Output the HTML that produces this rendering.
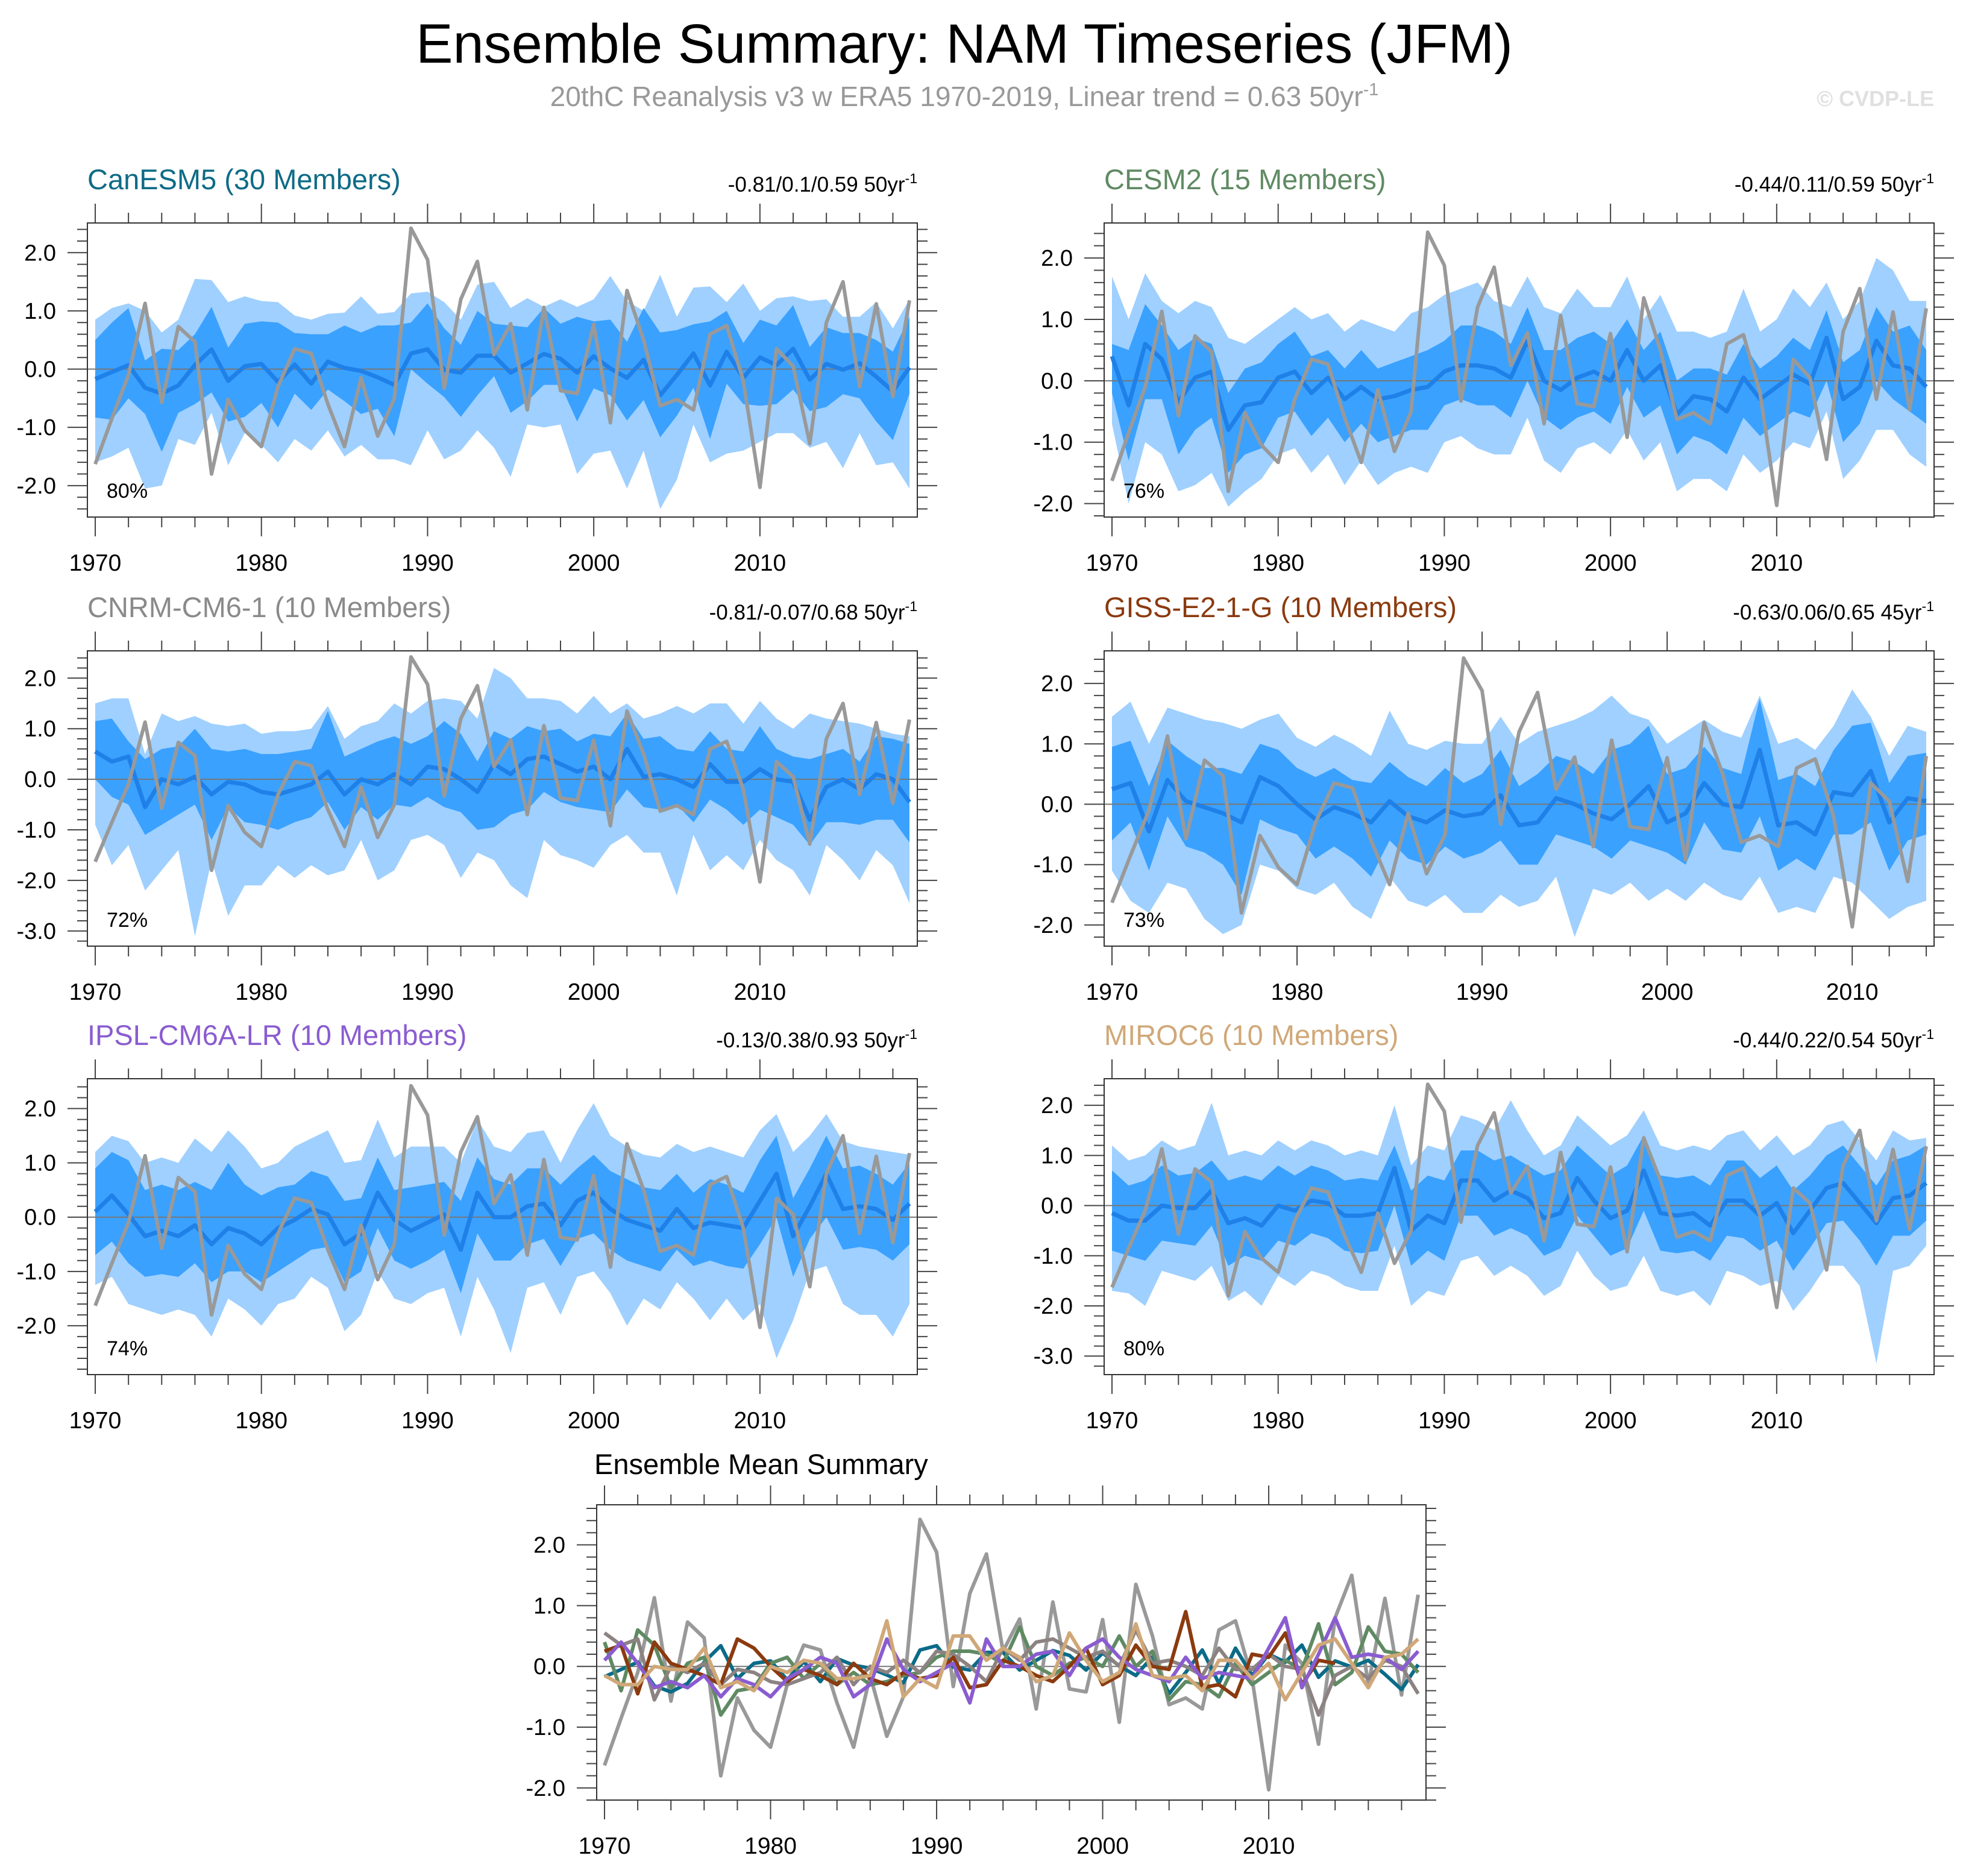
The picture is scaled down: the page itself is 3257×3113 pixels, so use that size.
<!DOCTYPE html>
<html><head><meta charset="utf-8"><style>
html,body{margin:0;padding:0;background:#fff}
svg{display:block}
text{font-family:"Liberation Sans",sans-serif}
</style></head><body>
<svg id="chart" xmlns="http://www.w3.org/2000/svg" width="3257" height="3113" viewBox="0 0 3257 3113">
<rect width="3257" height="3113" fill="#fff"/>
<text x="1600" y="104" font-size="92" text-anchor="middle" fill="#000">Ensemble Summary: NAM Timeseries (JFM)</text>
<text x="1600" y="176" font-size="46" text-anchor="middle" fill="#999">20thC Reanalysis v3 w ERA5 1970-2019, Linear trend = 0.63 50yr<tspan dy="-18" font-size="29">-1</tspan></text>
<text x="3209" y="176" font-size="36" font-weight="bold" text-anchor="end" fill="#e0e0e0">© CVDP-LE</text>
<text x="986" y="2446" font-size="47" fill="#000">Ensemble Mean Summary</text>
<g id="plots"></g>
</svg>
<script>
const obs=[-1.63,-0.85,-0.1,1.13,-0.57,0.73,0.47,-1.8,-0.52,-1.05,-1.33,-0.3,0.35,0.27,-0.6,-1.33,-0.15,-1.15,-0.5,2.42,1.88,-0.33,1.2,1.85,0.25,0.78,-0.7,1.06,-0.37,-0.42,0.77,-0.92,1.35,0.5,-0.63,-0.52,-0.7,0.6,0.75,-0.2,-2.03,0.35,0.05,-1.28,0.8,1.5,-0.3,1.12,-0.47,1.18];

const canMean=[-0.17,-0.05,0.07,-0.32,-0.42,-0.28,0.07,0.34,-0.2,0.05,0.09,-0.22,0.08,-0.25,0.13,0.02,-0.03,-0.14,-0.27,0.27,0.34,-0.01,-0.06,0.23,0.23,-0.06,0.1,0.26,0.18,-0.06,0.22,0.01,-0.15,0.16,-0.45,-0.1,0.27,-0.28,0.3,-0.15,0.2,0.07,0.35,-0.18,0.09,-0.01,0.1,-0.13,-0.38,0.03];
const canDarkHi=[0.5,0.8,1.05,0.15,0.35,0.33,0.6,1.07,0.37,0.78,0.82,0.8,0.62,0.6,0.6,0.75,0.63,0.75,0.75,0.8,1.13,0.7,0.42,1.0,0.78,0.75,0.72,1.05,0.78,0.9,0.82,0.85,0.47,1.05,0.63,0.67,0.77,0.82,1.0,0.45,0.85,0.75,1.1,0.38,0.72,0.62,0.62,0.5,0.3,0.9];
const canDarkLo=[-0.83,-0.87,-0.5,-0.77,-1.42,-0.75,-0.6,-0.4,-0.9,-0.82,-0.58,-1.0,-0.42,-0.7,-0.35,-0.55,-0.77,-0.68,-1.15,0.0,-0.25,-0.48,-0.82,-0.45,-0.12,-0.75,-0.55,-0.27,-0.27,-0.9,-0.33,-0.45,-0.88,-0.53,-1.17,-0.8,-0.32,-1.2,-0.25,-0.6,-0.63,-0.6,-0.35,-0.72,-0.65,-0.43,-0.5,-0.9,-1.22,-0.42];
const canLightHi=[0.85,1.05,1.13,1.0,0.63,0.85,1.55,1.53,1.15,1.25,1.17,1.15,0.92,0.85,0.95,0.97,1.25,0.95,0.98,1.3,1.33,1.15,0.85,1.45,1.5,1.05,1.22,1.07,1.2,1.07,1.2,1.6,1.17,1.0,1.62,0.9,1.4,1.42,1.15,1.47,1.0,1.22,1.25,1.17,1.2,0.9,0.9,1.15,0.7,1.2];
const canLightLo=[-1.6,-1.5,-1.35,-2.05,-2.0,-1.2,-1.3,-0.75,-1.65,-1.1,-1.3,-1.6,-1.2,-1.4,-1.05,-1.5,-1.3,-1.55,-1.55,-1.65,-1.05,-1.55,-1.4,-1.05,-1.35,-1.85,-0.95,-1.0,-0.95,-1.8,-1.45,-1.4,-2.05,-1.4,-2.4,-1.9,-0.95,-1.6,-1.45,-1.4,-1.25,-1.1,-1.1,-1.35,-1.25,-1.7,-1.1,-1.65,-1.6,-2.05];

const cesmMean=[0.4,-0.4,0.6,0.35,-0.35,0.05,0.15,-0.8,-0.4,-0.35,0.05,0.15,-0.2,0.05,-0.3,-0.1,-0.3,-0.25,-0.15,-0.1,0.15,0.25,0.25,0.2,0.05,0.65,0.0,-0.15,0.05,0.15,0.0,0.5,0.0,0.25,-0.55,-0.25,-0.3,-0.5,0.05,-0.3,-0.1,0.1,-0.05,0.7,-0.3,-0.1,0.65,0.25,0.2,-0.1];
const cesmDarkHi=[0.6,0.5,1.25,0.9,0.5,0.7,0.6,-0.2,0.2,0.3,0.6,0.8,0.4,0.5,0.2,0.5,0.2,0.3,0.4,0.5,0.65,0.9,0.9,0.8,0.6,1.2,0.5,0.5,0.7,0.8,0.6,1.0,0.5,0.8,0.0,0.2,0.2,0.1,0.6,0.2,0.4,0.7,0.5,1.15,0.3,0.5,1.2,0.8,0.9,0.5];
const cesmDarkLo=[-0.2,-1.3,-0.3,-0.3,-1.2,-0.8,-0.6,-1.5,-1.2,-1.1,-0.6,-0.5,-0.9,-0.6,-1.0,-0.7,-1.0,-0.9,-0.8,-0.8,-0.4,-0.3,-0.4,-0.4,-0.6,0.0,-0.6,-0.8,-0.6,-0.5,-0.7,-0.1,-0.6,-0.4,-1.2,-0.9,-1.0,-1.2,-0.6,-0.9,-0.7,-0.5,-0.6,0.0,-1.0,-0.7,0.0,-0.3,-0.5,-0.7];
const cesmLightHi=[1.7,1.0,1.75,1.3,1.1,1.3,1.2,0.7,0.6,0.8,1.0,1.2,1.0,1.1,0.8,1.0,0.9,0.8,1.1,1.2,1.4,1.5,1.6,1.3,1.2,1.7,1.2,1.1,1.5,1.2,1.2,1.7,1.0,1.4,0.8,0.8,0.7,0.8,1.5,0.8,1.0,1.5,1.2,1.6,1.0,1.3,2.0,1.8,1.3,1.3];
const cesmLightLo=[-0.7,-2.0,-1.0,-1.2,-1.8,-1.7,-1.5,-2.05,-1.8,-1.6,-1.2,-1.1,-1.5,-1.2,-1.7,-1.3,-1.7,-1.5,-1.4,-1.5,-1.0,-0.9,-1.1,-1.2,-1.2,-0.6,-1.3,-1.5,-1.1,-1.0,-1.2,-0.8,-1.3,-1.0,-1.8,-1.6,-1.6,-1.8,-1.2,-1.5,-1.3,-1.0,-1.1,-0.5,-1.6,-1.3,-0.8,-0.8,-1.2,-1.4];

const cnrmMean=[0.55,0.35,0.45,-0.55,0.0,-0.1,0.05,-0.3,-0.05,-0.1,-0.25,-0.3,-0.2,-0.1,0.15,-0.3,0.0,-0.1,0.1,-0.1,0.25,0.2,0.0,-0.25,0.3,0.1,0.4,0.45,0.3,0.15,0.25,0.0,0.6,0.05,0.1,0.0,-0.15,0.3,-0.05,-0.05,0.2,0.0,-0.05,-0.8,-0.15,0.0,-0.2,0.1,0.0,-0.45];
const cnrmDarkHi=[1.15,1.2,0.75,0.4,0.6,0.65,1.0,0.6,0.55,0.6,0.5,0.5,0.55,0.6,1.35,0.45,0.6,0.75,0.85,0.7,0.85,1.15,0.9,0.35,0.95,0.8,1.05,0.95,1.0,0.75,0.9,0.85,1.3,0.8,0.85,0.6,0.55,0.95,0.6,0.55,1.05,0.6,0.45,0.4,0.5,0.6,0.35,0.85,0.8,0.7];
const cnrmDarkLo=[0.0,-0.35,-0.5,-1.1,-0.9,-0.7,-0.5,-1.2,-0.55,-0.85,-0.9,-1.0,-0.85,-0.75,-0.45,-1.0,-0.55,-0.8,-0.5,-0.55,-0.35,-0.55,-0.65,-1.0,-0.95,-0.7,-0.6,-0.25,-0.45,-0.55,-0.6,-0.65,-0.2,-0.55,-0.6,-0.5,-0.85,-0.4,-0.6,-0.9,-0.6,-0.75,-0.9,-1.3,-0.85,-0.85,-0.9,-0.8,-0.8,-1.25];
const cnrmLightHi=[1.5,1.6,1.6,0.5,1.3,1.15,1.25,1.1,1.05,1.1,0.9,0.95,0.95,1.0,1.45,0.8,1.05,1.15,1.5,1.3,1.55,1.6,1.55,1.2,2.2,2.0,1.6,1.6,1.55,1.3,1.65,1.3,1.5,1.2,1.3,1.45,1.3,1.5,1.5,1.1,1.55,1.2,1.0,1.3,1.2,1.15,1.1,1.0,0.9,0.85];
const cnrmLightLo=[-0.9,-1.7,-1.3,-2.2,-1.8,-1.4,-3.1,-1.6,-2.7,-2.1,-2.1,-1.7,-1.95,-1.7,-1.9,-1.8,-1.2,-2.0,-1.8,-1.2,-1.1,-1.3,-1.95,-1.45,-1.6,-2.1,-2.35,-1.2,-1.5,-1.6,-1.75,-1.3,-1.1,-1.45,-1.45,-2.3,-1.1,-1.8,-1.5,-1.8,-1.2,-1.6,-1.8,-2.3,-1.3,-1.6,-2.0,-1.4,-1.7,-2.45];

const gissMean=[0.25,0.35,-0.45,0.4,0.05,-0.05,-0.15,-0.3,0.45,0.3,0.0,-0.25,-0.05,-0.15,-0.3,0.05,-0.2,-0.3,-0.1,-0.2,-0.15,0.15,-0.35,-0.3,0.1,0.0,-0.15,-0.25,0.0,0.3,-0.3,-0.15,0.35,0.0,-0.05,0.9,-0.35,-0.3,-0.5,0.2,0.15,0.55,-0.3,0.1,0.05];
const gissDarkHi=[0.95,1.05,0.3,1.05,0.8,0.6,0.6,0.5,1.0,0.9,0.6,0.45,0.6,0.4,0.35,0.7,0.45,0.3,0.6,0.35,0.5,0.9,0.3,0.5,0.8,0.7,0.5,0.9,1.0,1.3,0.5,0.6,0.95,0.6,0.5,1.75,0.4,0.5,0.3,0.9,1.3,1.35,0.35,0.8,0.85];
const gissDarkLo=[-0.6,-0.3,-1.1,-0.2,-0.7,-0.8,-1.0,-1.5,-0.25,-0.4,-0.5,-0.9,-0.7,-0.9,-1.2,-0.6,-0.9,-1.0,-0.7,-0.9,-0.8,-0.6,-1.0,-1.0,-0.5,-0.6,-0.7,-0.9,-0.6,-0.7,-0.8,-1.0,-0.3,-0.75,-0.8,-0.2,-1.1,-0.9,-1.1,-0.5,-0.5,-0.3,-1.1,-0.6,-0.5];
const gissLightHi=[1.45,1.7,1.0,1.6,1.5,1.4,1.35,1.25,1.4,1.5,1.1,0.95,1.15,1.0,0.8,1.55,1.0,0.9,1.05,1.0,1.0,1.45,1.0,1.2,1.3,1.4,1.55,1.8,1.5,1.4,1.0,1.2,1.4,1.2,1.1,1.8,1.0,1.1,0.9,1.3,1.9,1.45,0.8,1.3,1.2];
const gissLightLo=[-1.1,-1.6,-1.8,-1.3,-1.4,-1.9,-2.15,-2.0,-1.0,-1.1,-1.4,-1.5,-1.3,-1.7,-1.9,-1.2,-1.6,-1.7,-1.5,-1.8,-1.8,-1.5,-1.7,-1.6,-1.2,-2.2,-1.4,-1.5,-1.3,-1.6,-1.4,-1.6,-1.3,-1.5,-1.6,-1.2,-1.8,-1.7,-1.8,-1.2,-1.3,-1.6,-1.9,-1.7,-1.6];

const ipslMean=[0.1,0.4,0.05,-0.35,-0.25,-0.35,-0.15,-0.5,-0.2,-0.3,-0.5,-0.2,-0.05,0.15,0.05,-0.5,-0.3,0.45,-0.05,-0.25,-0.1,0.05,-0.6,0.45,0.0,0.0,0.2,0.25,-0.15,0.3,0.45,0.15,-0.05,-0.15,-0.25,0.15,-0.2,-0.1,-0.15,-0.2,0.3,0.8,-0.35,0.2,0.8,0.15,0.2,0.15,-0.05,0.25];
const ipslDarkHi=[0.9,1.2,1.05,0.5,0.6,0.5,0.65,0.5,1.0,0.6,0.4,0.55,0.6,0.85,0.75,0.3,0.35,1.1,0.5,0.55,0.6,0.65,0.3,1.1,0.7,0.6,0.9,0.9,0.6,0.9,1.15,0.85,0.7,0.55,0.5,0.8,0.45,0.7,0.6,0.45,1.05,1.5,0.35,0.9,1.5,0.9,0.95,0.8,0.6,1.0];
const ipslDarkLo=[-0.7,-0.45,-0.85,-1.1,-1.05,-1.1,-0.85,-1.2,-1.0,-1.0,-1.2,-1.0,-0.8,-0.6,-0.55,-1.2,-1.0,-0.2,-0.8,-0.95,-0.8,-0.6,-1.4,-0.3,-0.8,-0.8,-0.5,-0.4,-0.9,-0.4,-0.3,-0.6,-0.8,-0.9,-1.0,-0.6,-0.9,-0.8,-0.9,-0.95,-0.5,0.0,-1.1,-0.4,0.0,-0.6,-0.55,-0.6,-0.8,-0.5];
const ipslLightHi=[1.2,1.5,1.4,1.0,1.1,1.0,1.45,1.2,1.6,1.3,0.9,1.0,1.3,1.45,1.6,1.0,1.05,1.8,1.1,1.3,1.3,1.3,1.0,1.8,1.3,1.2,1.55,1.6,1.0,1.6,2.1,1.5,1.3,1.15,1.1,1.35,1.2,1.3,1.2,1.1,1.6,1.9,1.2,1.5,1.9,1.4,1.3,1.25,1.2,1.15];
const ipslLightLo=[-1.25,-1.1,-1.6,-1.7,-1.8,-1.7,-1.8,-2.2,-1.5,-1.7,-2.0,-1.6,-1.5,-1.1,-1.3,-2.1,-1.8,-1.0,-1.5,-1.6,-1.4,-1.3,-2.2,-1.1,-1.7,-2.5,-1.3,-1.2,-1.8,-1.1,-1.0,-1.4,-2.0,-1.5,-1.7,-1.2,-1.5,-1.9,-1.5,-1.9,-1.6,-2.6,-1.9,-1.0,-0.9,-1.6,-1.8,-1.8,-2.2,-1.6];

const mirocMean=[-0.15,-0.3,-0.3,0.0,-0.05,-0.05,0.3,-0.35,-0.25,-0.4,0.0,-0.1,0.1,0.05,-0.2,-0.2,-0.15,0.75,-0.5,-0.2,-0.35,0.5,0.5,0.1,0.3,0.15,-0.25,-0.15,0.55,0.1,-0.25,-0.1,0.7,-0.15,-0.2,-0.15,-0.4,0.1,0.1,-0.2,0.05,-0.55,-0.1,0.35,0.45,0.05,-0.35,0.15,0.2,0.45];
const mirocDarkHi=[0.7,0.4,0.5,0.8,0.6,0.65,0.9,0.5,0.6,0.5,0.8,0.6,0.8,0.7,0.5,0.55,0.5,1.2,0.3,0.6,0.5,1.1,1.1,0.9,1.0,0.8,0.6,0.7,1.2,0.9,0.6,0.8,1.4,0.6,0.55,0.6,0.4,0.9,0.9,0.55,0.8,0.3,0.6,1.0,1.2,0.8,0.4,0.9,1.0,1.2];
const mirocDarkLo=[-0.9,-1.0,-1.1,-0.7,-0.75,-0.8,-0.4,-1.2,-1.0,-1.1,-0.7,-0.8,-0.55,-0.65,-0.9,-0.95,-0.9,0.0,-1.2,-0.9,-1.1,-0.2,-0.2,-0.6,-0.45,-0.6,-1.0,-0.85,-0.2,-0.6,-1.0,-0.85,-0.1,-0.9,-0.95,-0.9,-1.1,-0.6,-0.65,-0.9,-0.7,-1.3,-0.85,-0.35,-0.3,-0.7,-1.2,-0.6,-0.6,-0.3];
const mirocLightHi=[1.2,0.9,1.0,1.3,1.1,1.2,2.05,1.0,1.1,1.0,1.3,1.1,1.3,1.2,1.0,1.1,1.0,2.0,0.8,1.2,1.1,1.8,1.7,1.5,2.1,1.5,1.0,1.2,1.8,1.5,1.2,1.4,1.9,1.2,1.1,1.2,1.1,1.4,1.5,1.1,1.4,1.0,1.2,1.6,1.7,1.3,0.9,1.5,1.3,1.35];
const mirocLightLo=[-1.7,-1.75,-2.0,-1.3,-1.4,-1.5,-1.2,-1.9,-1.7,-2.0,-1.4,-1.6,-1.3,-1.4,-1.6,-1.7,-1.7,-0.8,-2.0,-1.7,-1.8,-1.1,-1.0,-1.4,-1.2,-1.4,-1.8,-1.6,-0.9,-1.4,-1.7,-1.6,-1.0,-1.7,-1.8,-1.7,-2.0,-1.3,-1.4,-1.6,-1.5,-2.1,-1.7,-1.2,-1.2,-1.6,-3.15,-1.3,-1.2,-0.8];

const modelNames=["CanESM5 (30 Members)","CESM2 (15 Members)","CNRM-CM6-1 (10 Members)","GISS-E2-1-G (10 Members)","IPSL-CM6A-LR (10 Members)","MIROC6 (10 Members)"];
const modelStats=["-0.81/0.1/0.59 50yr","-0.44/0.11/0.59 50yr","-0.81/-0.07/0.68 50yr","-0.63/0.06/0.65 45yr","-0.13/0.38/0.93 50yr","-0.44/0.22/0.54 50yr"];
const modelPct=["80%","76%","72%","73%","74%","80%"];
const xTickYears=[1970,1980,1990,2000,2010];
const startYear=1970;

const NS="http://www.w3.org/2000/svg";
const root=document.getElementById('plots');
function mk(tag,attrs,parent){const e=document.createElementNS(NS,tag);for(const k in attrs)e.setAttribute(k,attrs[k]);(parent||root).appendChild(e);return e;}

const panels=[
 {x0:145,y0:370,x1:1522,y1:858,ymin:-2.54,ymax:2.51,yt:[-2,-1,0,1,2],n:50,tc:"#0e6b86",m:canMean,dh:canDarkHi,dl:canDarkLo,lh:canLightHi,ll:canLightLo},
 {x0:1832,y0:370,x1:3209,y1:858,ymin:-2.22,ymax:2.57,yt:[-2,-1,0,1,2],n:50,tc:"#5f8a63",m:cesmMean,dh:cesmDarkHi,dl:cesmDarkLo,lh:cesmLightHi,ll:cesmLightLo},
 {x0:145,y0:1080,x1:1522,y1:1570,ymin:-3.3,ymax:2.54,yt:[-3,-2,-1,0,1,2],n:50,tc:"#8a8a8a",m:cnrmMean,dh:cnrmDarkHi,dl:cnrmDarkLo,lh:cnrmLightHi,ll:cnrmLightLo},
 {x0:1832,y0:1080,x1:3209,y1:1570,ymin:-2.35,ymax:2.54,yt:[-2,-1,0,1,2],n:45,tc:"#8b3a0f",m:gissMean,dh:gissDarkHi,dl:gissDarkLo,lh:gissLightHi,ll:gissLightLo},
 {x0:145,y0:1790,x1:1522,y1:2281,ymin:-2.9,ymax:2.55,yt:[-2,-1,0,1,2],n:50,tc:"#8a5cd0",m:ipslMean,dh:ipslDarkHi,dl:ipslDarkLo,lh:ipslLightHi,ll:ipslLightLo},
 {x0:1832,y0:1790,x1:3209,y1:2281,ymin:-3.37,ymax:2.53,yt:[-3,-2,-1,0,1,2],n:50,tc:"#d0a878",m:mirocMean,dh:mirocDarkHi,dl:mirocDarkLo,lh:mirocLightHi,ll:mirocLightLo}
];
const summaryColors=["#0b6b88","#5f8a63","#8c8282","#8b3a0f","#8a5cd0","#d0a878"];

function axes(p,g){
 const sx=i=>p.x0+13+i*(p.x1-p.x0-26)/(p.n-1);
 const sy=v=>p.y0+(p.ymax-v)/(p.ymax-p.ymin)*(p.y1-p.y0);
 for(let yr=startYear;yr<startYear+p.n;yr+=2){
  const x=sx(yr-startYear);const maj=(yr%10===0);const L=maj?32:17;
  const t1=mk('line',{x1:x,y1:p.y1,x2:x,y2:p.y1+L,stroke:'#444','stroke-width':2},g);
  
  
  const t2=mk('line',{x1:x,y1:p.y0,x2:x,y2:p.y0-L,stroke:'#444','stroke-width':2},g);
  
  
 }
 xTickYears.forEach(yr=>{if(yr-startYear>=p.n)return;
  const t=mk('text',{x:sx(yr-startYear),y:p.y1+89,'font-size':39,'text-anchor':'middle',fill:'#000'},g);t.textContent=yr;
  
  
 });
 const lo=Math.ceil(p.ymin*5),hi=Math.floor(p.ymax*5);
 for(let k=lo;k<=hi;k++){const v=k/5;const y=sy(v);const maj=(k%5===0);const L=maj?33:17;
  const a=mk('line',{x1:p.x0,y1:y,x2:p.x0-L,y2:y,stroke:'#444','stroke-width':2},g);
  
  
  const b=mk('line',{x1:p.x1,y1:y,x2:p.x1+L,y2:y,stroke:'#444','stroke-width':2},g);
  
  
 }
 p.yt.forEach(v=>{const t=mk('text',{x:p.x0-52,y:sy(v)+13,'font-size':38,'text-anchor':'end',fill:'#000'},g);t.textContent=v.toFixed(1);
  
  
 });
 return {sx,sy};
}
function band(hi,lo,sx,sy,fill,g,name){
 let d='';for(let i=0;i<hi.length;i++)d+=(i?'L':'M')+sx(i).toFixed(1)+','+sy(hi[i]).toFixed(1);
 for(let i=lo.length-1;i>=0;i--)d+='L'+sx(i).toFixed(1)+','+sy(lo[i]).toFixed(1);
 const e=mk('path',{d:d+'Z',fill:fill},g);
 
 
}
function line(vals,n,sx,sy,col,w,g,name){
 let d='';for(let i=0;i<n;i++)d+=(i?'L':'M')+sx(i).toFixed(1)+','+sy(vals[i]).toFixed(1);
 const e=mk('path',{d:d,fill:'none',stroke:col,'stroke-width':w,'stroke-linejoin':'round'},g);
 
 
}
panels.forEach((p,idx)=>{
 const g=mk('g',{});
 
 
 const {sx,sy}=axes(p,g);
 band(p.lh,p.ll,sx,sy,'#9fd0ff',g,'outer-spread-band');
 band(p.dh,p.dl,sx,sy,'#3aa1ff',g,'inner-spread-band');
 const z=mk('line',{x1:p.x0,y1:sy(0),x2:p.x1,y2:sy(0),stroke:'#777','stroke-width':2},g);
 
 
 line(p.m,p.n,sx,sy,'#1f80e8',7,g,'ensemble-mean-line');
 line(obs,p.n,sx,sy,'#999',6,g,'observed-line');
 const bx=mk('rect',{x:p.x0,y:p.y0,width:p.x1-p.x0,height:p.y1-p.y0,fill:'none',stroke:'#333','stroke-width':2},g);
 
 
 const tt=mk('text',{x:p.x0,y:p.y0-56,'font-size':47,fill:p.tc},g);tt.textContent=modelNames[idx];
 
 
 const st=mk('text',{x:p.x1,y:p.y0-52,'font-size':35,'text-anchor':'end',fill:'#000'},g);
 st.textContent=modelStats[idx];
 const sup=mk('tspan',{dy:-14,'font-size':23},st);sup.textContent='-1';
 
 
 const pc=mk('text',{x:p.x0+32,y:p.y1-32,'font-size':34,fill:'#000'},g);pc.textContent=modelPct[idx];
 
 
});
(function(){
 const p={x0:990,y0:2497,x1:2366,y1:2987,ymin:-2.2,ymax:2.66,yt:[-2,-1,0,1,2],n:50};
 const g=mk('g',{});
 
 
 const {sx,sy}=axes(p,g);
 const z=mk('line',{x1:p.x0,y1:sy(0),x2:p.x1,y2:sy(0),stroke:'#777','stroke-width':2},g);
 
 
 line(obs,50,sx,sy,'#999',6,g,'observed-line');
 panels.forEach((m,i)=>{
  line(m.m,m.n,sx,sy,summaryColors[i],6,g,'model-mean-line');
 });
 const bx=mk('rect',{x:p.x0,y:p.y0,width:p.x1-p.x0,height:p.y1-p.y0,fill:'none',stroke:'#333','stroke-width':2},g);
 
 
})();
</script>
</body></html>
